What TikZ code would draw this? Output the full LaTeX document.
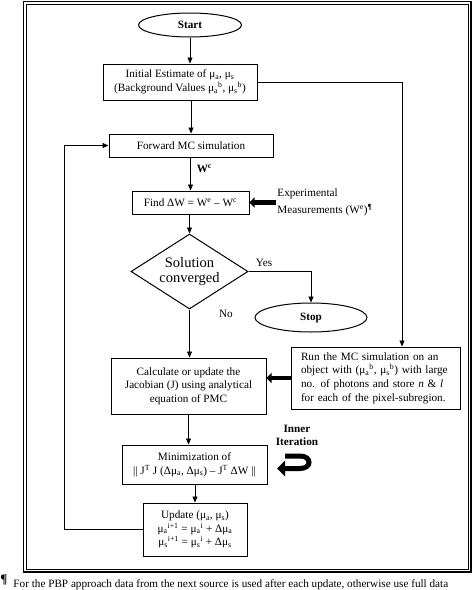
\documentclass[tikz,border=0pt]{standalone}
\usepackage{fontspec}
\setmainfont{Liberation Serif}
\usepackage{tikz}
\usetikzlibrary{shapes.geometric,arrows,arrows.meta}

\newcommand{\mua}{μ\textsubscript{a}}
\newcommand{\mus}{μ\textsubscript{s}}
\newcommand{\jline}[1]{\makebox[149pt][s]{#1}\\}

\tikzset{
    flowbox/.style={draw, line width=1pt, align=center, inner sep=0pt, font=\fontsize{11.2}{13.6}\selectfont},
    terminal/.style={draw, ellipse, line width=1pt, inner sep=0pt, font=\fontsize{11.2}{13.6}\selectfont\bfseries},
    fatarrow/.style={line width=4.5pt, -{Triangle[length=5pt,width=10pt]}},
}

\begin{document}
\begin{tikzpicture}[x=1pt, y=-1pt, line width=0.9pt, >={Triangle[length=6pt,width=5pt]},
        font=\fontsize{11.2}{13.6}\selectfont]
        \useasboundingbox (0,0) rectangle (474,590);
        \draw[line width=1.6pt] (23.5,1.5) rectangle (471,572);
        \draw[line width=0.6pt] (26.5,4.5) rectangle (468,569);

        \node[terminal, minimum width=103, minimum height=24] (start) at (190,25) {Start};
        \node[flowbox, minimum width=154, minimum height=36] (init) at (180,82)
            {Initial Estimate of \mua, \mus\\(Background Values \mua\textsuperscript{b}, \mus\textsuperscript{b})};
        \node[flowbox, minimum width=164, minimum height=23] (forward) at (191,145.5) {Forward MC simulation};
        \node[anchor=west] (wc) at (193,169) {\textbf{W\textsuperscript{c}}};
        \node[flowbox, minimum width=117, minimum height=23] (find) at (190.5,202.5)
            {Find ΔW = W\textsuperscript{e} – W\textsuperscript{c}};
        \node[anchor=west, align=left, inner sep=1pt, font=\fontsize{11.2}{17}\selectfont] (exp) at (276,202.5)
            {Experimental\\Measurements (W\textsuperscript{e})\textsuperscript{\textbf{¶}}};
        \node[draw, diamond, aspect=1.56, line width=1pt, inner sep=0pt, minimum width=117, minimum height=75,
            align=center, font=\fontsize{14.5}{15}\selectfont] (conv) at (189.5,271.5) {Solution\\converged};
        \node (yes) at (264,263) {Yes};
        \node (no) at (226,314) {No};
        \node[terminal, minimum width=112, minimum height=29] (stop) at (311,317.5) {Stop};
        \node[flowbox, minimum width=155, minimum height=56] (calc) at (188.5,386)
            {Calculate or update the\\Jacobian (J) using analytical\\equation of PMC};
        \node[flowbox, minimum width=169, minimum height=62, text width=149, align=left] (run) at (375.5,378)
            {\jline{Run the MC simulation on an}\jline{object with (\mua\textsuperscript{b}, \mus\textsuperscript{b}) with large}\jline{no. of photons and store \textit{n} \& \textit{l}}for each of the pixel-subregion.};
        \node[flowbox, minimum width=145, minimum height=39] (minim) at (194.5,464.5)
            {Minimization of\\|| J\textsuperscript{T} J (Δ\mua, Δ\mus) – J\textsuperscript{T} ΔW ||};
        \node[align=center, font=\fontsize{11.2}{13}\selectfont\bfseries] (inner) at (297,435.5) {Inner\\Iteration};
        \node[flowbox, minimum width=104, minimum height=53] (update) at (195,529.5)
            {Update (\mua, \mus)\\\mua\textsuperscript{i+1} = \mua\textsuperscript{i} + Δ\mua\\\mus\textsuperscript{i+1} = \mus\textsuperscript{i} + Δ\mus};
        \node[anchor=base west, inner sep=0pt, font=\fontsize{13}{13}\selectfont] (pil) at (0,583) {\textbf{¶}};
        \node[anchor=base west, inner sep=0pt] (note) at (13,587.5)
            {For the PBP approach data from the next source is used after each update, otherwise use full data};
        \coordinate (back) at (64,145.5);

        \draw[->] (start.south) -- (start.south |- init.north);
        \draw[->] (init.south -| forward.north) -- (forward.north);
        \draw[->] (forward.south -| find.north) -- (find.north);
        \draw[->] (find.south -| conv.north) -- (conv.north);
        \draw[->] (conv.east) -| (stop.north);
        \draw[->] (conv.south) -- (conv.south |- calc.north);
        \draw[->] (init.east) -| ([xshift=26.5pt]run.north);
        \draw[->] (calc.south) -- (calc.south |- minim.north);
        \draw[->] (minim.south -| update.north) -- (update.north);
        \draw[->] (update.west) -| (back) -- (forward.west);
        \draw[fatarrow] (exp.west) -- (exp.west -| find.east);
        \draw[fatarrow] (run.west) -- (run.west -| calc.east);
        \draw[line width=5pt, -{Triangle[length=8pt,width=15pt]}] (285,456) -- (300,456)
            .. controls (312,456) and (312,468.5) .. (300,468.5) -- (277,468.5);
    \end{tikzpicture}
\end{document}
